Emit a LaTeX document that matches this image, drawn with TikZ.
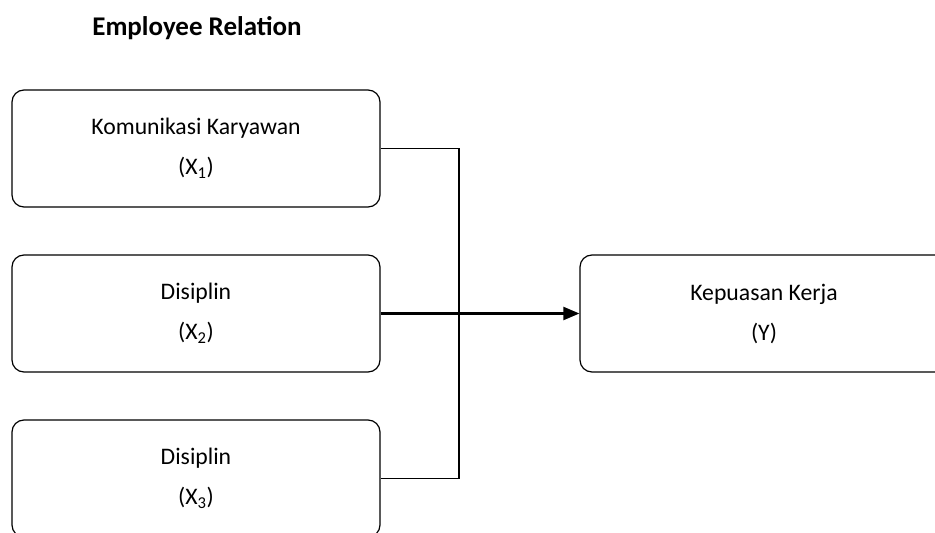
\documentclass[tikz,border=0pt]{standalone}
\usepackage{fontspec}
\setmainfont{Carlito}
\usepackage{tikz}
\usetikzlibrary{positioning,calc,arrows.meta}

\begin{document}
\begin{tikzpicture}[x=1pt, y=1pt, line width=1.2pt]
      \tikzstyle{var} = [draw, rounded corners=12pt, minimum width=368pt, minimum height=117pt,
        align=center, font=\fontsize{23.7}{40}\selectfont]
      \useasboundingbox (0,0) rectangle (935,533);
      \node (title) at (197,505) [font=\fontsize{27}{30}\selectfont\bfseries] {Employee Relation};
      \node (x1) at (196,384.5) [var] {Komunikasi Karyawan\\(X\textsubscript{1})};
      \node (x2) at (196,219.5) [var] {Disiplin\\(X\textsubscript{2})};
      \node (x3) at (196,54.5) [var] {Disiplin\\(X\textsubscript{3})};
      \node (y) at (764,219.5) [var] {Kepuasan Kerja\\(Y)};
      \coordinate (jn) at (459,219.5);
      % lines to the junction
      \draw (x1.east) -| (jn) |- (x3.east);
      \draw[line width=2.2pt, -{Triangle[length=16pt,width=13pt]}] (x2.east) -- (y.west);
    \end{tikzpicture}
\end{document}
